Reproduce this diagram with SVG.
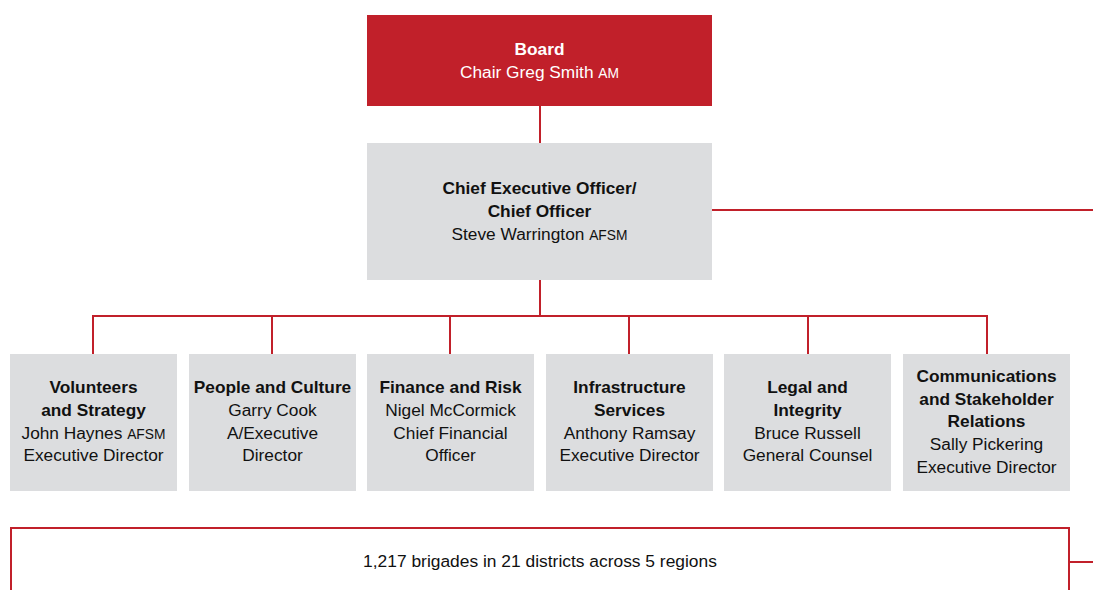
<svg xmlns="http://www.w3.org/2000/svg" width="1093" height="590" viewBox="0 0 1093 590">
  <style>
    .box { fill: #dcdddf; }
    .board { fill: #c1202a; }
    .link { fill: none; stroke: #c1202a; stroke-width: 2; }
    text { font-family: "Liberation Sans", Arial, sans-serif; font-size: 17.3px; fill: #111111; text-anchor: middle; }
    .b { font-weight: bold; }
    .w { fill: #ffffff; }
    .sc { font-size: 13.8px; }
    .note { font-size: 17.4px; }
  </style>

  <g id="connectors">
    <line class="link" x1="540" y1="106" x2="540" y2="143"/>
    <line class="link" x1="712" y1="210" x2="1093" y2="210"/>
    <line class="link" x1="540" y1="280" x2="540" y2="316"/>
    <polyline class="link" points="93,354 93,316 987,316 987,354"/>
    <line class="link" x1="272" y1="316" x2="272" y2="354"/>
    <line class="link" x1="450" y1="316" x2="450" y2="354"/>
    <line class="link" x1="629" y1="316" x2="629" y2="354"/>
    <line class="link" x1="808" y1="316" x2="808" y2="354"/>
    <polyline class="link" points="11,590 11,528 1069,528 1069,590"/>
    <line class="link" x1="1069" y1="562" x2="1093" y2="562"/>
  </g>

  <g id="board">
    <rect class="board" x="367" y="15" width="345" height="91"/>
    <text class="b w" x="539.5" y="55">Board</text>
    <text class="w" x="539.5" y="78">Chair Greg Smith <tspan class="sc">AM</tspan></text>
  </g>

  <g id="ceo">
    <rect class="box" x="367" y="143" width="345" height="137"/>
    <text class="b" x="539.5" y="194">Chief Executive Officer/</text>
    <text class="b" x="539.5" y="217">Chief Officer</text>
    <text x="539.5" y="240">Steve Warrington <tspan class="sc">AFSM</tspan></text>
  </g>

  <g id="volunteers">
    <rect class="box" x="10" y="354" width="167" height="137"/>
    <text class="b" x="93.5" y="393">Volunteers</text>
    <text class="b" x="93.5" y="416">and Strategy</text>
    <text x="93.5" y="439">John Haynes <tspan class="sc">AFSM</tspan></text>
    <text x="93.5" y="461">Executive Director</text>
  </g>

  <g id="people">
    <rect class="box" x="189" y="354" width="167" height="137"/>
    <text class="b" x="272.5" y="393">People and Culture</text>
    <text x="272.5" y="416">Garry Cook</text>
    <text x="272.5" y="439">A/Executive</text>
    <text x="272.5" y="461">Director</text>
  </g>

  <g id="finance">
    <rect class="box" x="367" y="354" width="167" height="137"/>
    <text class="b" x="450.5" y="393">Finance and Risk</text>
    <text x="450.5" y="416">Nigel McCormick</text>
    <text x="450.5" y="439">Chief Financial</text>
    <text x="450.5" y="461">Officer</text>
  </g>

  <g id="infrastructure">
    <rect class="box" x="546" y="354" width="167" height="137"/>
    <text class="b" x="629.5" y="393">Infrastructure</text>
    <text class="b" x="629.5" y="416">Services</text>
    <text x="629.5" y="439">Anthony Ramsay</text>
    <text x="629.5" y="461">Executive Director</text>
  </g>

  <g id="legal">
    <rect class="box" x="724" y="354" width="167" height="137"/>
    <text class="b" x="807.5" y="393">Legal and</text>
    <text class="b" x="807.5" y="416">Integrity</text>
    <text x="807.5" y="439">Bruce Russell</text>
    <text x="807.5" y="461">General Counsel</text>
  </g>

  <g id="communications">
    <rect class="box" x="903" y="354" width="167" height="137"/>
    <text class="b" x="986.5" y="382">Communications</text>
    <text class="b" x="986.5" y="405">and Stakeholder</text>
    <text class="b" x="986.5" y="427">Relations</text>
    <text x="986.5" y="450">Sally Pickering</text>
    <text x="986.5" y="473">Executive Director</text>
  </g>

  <g id="brigades">
    <text class="note" x="540" y="567">1,217 brigades in 21 districts across 5 regions</text>
  </g>
</svg>
